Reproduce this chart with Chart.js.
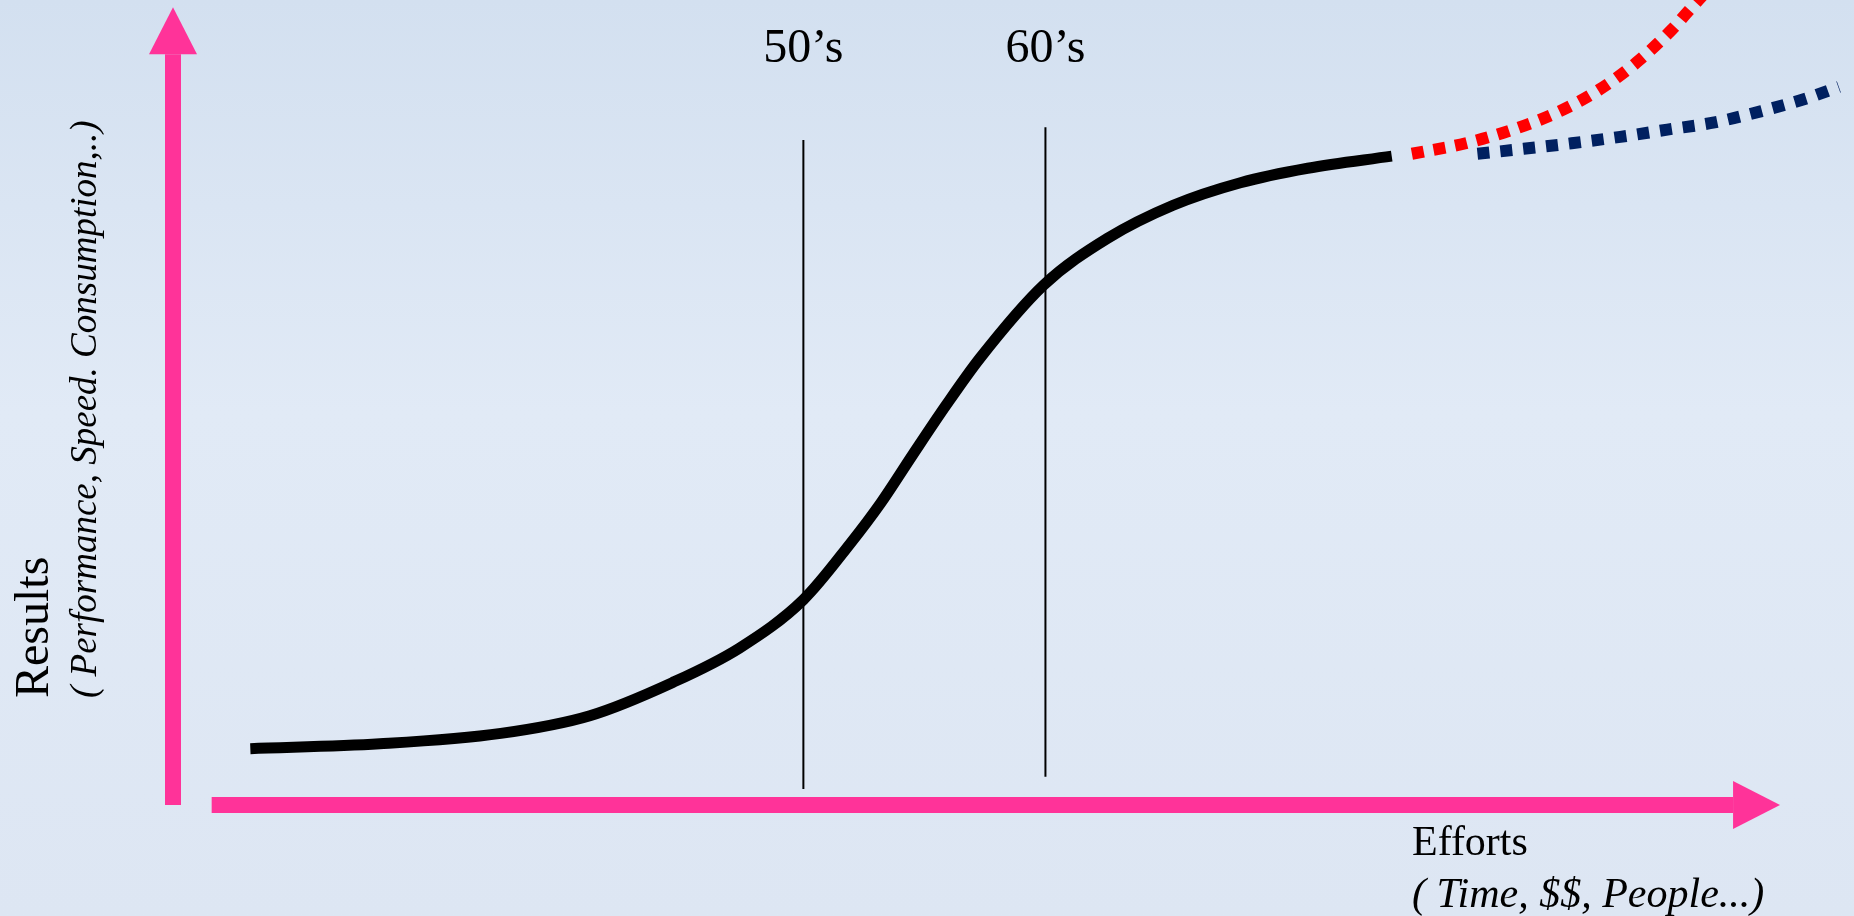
<!DOCTYPE html>
<html>
<head>
<meta charset="utf-8">
<title>S-curve of efforts vs results</title>
<script src="https://cdn.jsdelivr.net/npm/chart.js@4"></script>
<style>
  html, body { margin: 0; padding: 0; }
  body {
    width: 1854px;
    height: 916px;
    overflow: hidden;
    background: linear-gradient(to bottom, #d3e0f0 0%, #e1eaf6 45%, #dde6f3 100%);
  }
  #chart { display: block; }
</style>
</head>
<body>
<canvas id="chart" width="1854" height="916"></canvas>
<script>
// ------------------------- Data -------------------------
// main S-curve (efforts on x, results on y, both 0..100)
const curveEffort = [4.6, 12.3, 19.5, 24.8, 29.7, 33.7, 37.5, 40.3, 42.1, 44.0, 46.0, 48.0, 51.8, 55.6, 59.5, 63.5, 67.5, 72.5];
const curveResult = [7.0, 7.6, 8.9, 11.1, 15.2, 19.5, 25.5, 32.5, 37.5, 43.5, 49.7, 55.5, 64.6, 70.4, 74.5, 77.3, 79.1, 80.6];

// red dotted: new technology jump
const redEffort = [73.7, 76.9, 79.7, 82.3, 84.8, 87.1, 89.2, 90.1, 91.1];
const redResult = [80.9, 82.2, 83.9, 86.0, 88.8, 92.3, 96.4, 98.5, 100.8];

// navy dotted: slow continuation
const navyEffort = [77.6, 80.3, 83.2, 86.1, 88.9, 91.7, 94.5, 97.2, 99.1];
const navyResult = [80.9, 81.5, 82.2, 83.0, 83.9, 84.8, 86.2, 87.8, 89.2];

// era markers
const eraLabels = ['50\u2019s', '60\u2019s'];
const eraEffort = [37.5, 51.9];
const eraBottom = [2.0, 3.5];
const eraTop = [82.6, 84.2];

// ------------------------- Helpers -------------------------
function toPoints(xs, ys) {
  return xs.map((x, i) => ({ x: x, y: ys[i] }));
}

const PINK = '#ff3399';
const SERIF = '"Times New Roman", "Liberation Serif", serif';

const eraSets = eraEffort.map((x, i) => ({
  data: [{ x: x, y: eraBottom[i] }, { x: x, y: eraTop[i] }],
  borderColor: '#000000',
  borderWidth: 2,
  pointRadius: 0,
  tension: 0
}));

// arrows + texts around the plot
const decorPlugin = {
  id: 'decor',
  afterDraw(chart) {
    const c = chart.ctx;
    const xs = chart.scales.x;
    const ys = chart.scales.y;
    const ox = xs.getPixelForValue(0);
    const oy = ys.getPixelForValue(0);

    c.save();
    c.fillStyle = PINK;

    // vertical arrow
    const vTip = ys.getPixelForValue(99.1);
    c.fillRect(ox - 8, vTip + 47, 16, oy - vTip - 47);
    c.beginPath();
    c.moveTo(ox, vTip);
    c.lineTo(ox + 24, vTip + 47);
    c.lineTo(ox - 24, vTip + 47);
    c.closePath();
    c.fill();

    // horizontal arrow
    const hStart = xs.getPixelForValue(2.3);
    const hTip = xs.getPixelForValue(95.6);
    c.fillRect(hStart, oy - 8, hTip - 47 - hStart, 16);
    c.beginPath();
    c.moveTo(hTip, oy);
    c.lineTo(hTip - 47, oy - 24);
    c.lineTo(hTip - 47, oy + 24);
    c.closePath();
    c.fill();

    // era labels
    c.fillStyle = '#000000';
    c.textAlign = 'center';
    c.textBaseline = 'alphabetic';
    c.font = '48px ' + SERIF;
    eraLabels.forEach((t, i) => {
      c.fillText(t, xs.getPixelForValue(eraEffort[i]), 62);
    });

    // x axis title
    c.textAlign = 'left';
    c.font = '42px ' + SERIF;
    c.fillText('Efforts', 1412, 855);
    c.font = 'italic 42px ' + SERIF;
    c.fillText('( Time, $$, People...)', 1412, 907);

    // y axis title (rotated)
    c.save();
    c.translate(48, 698);
    c.rotate(-Math.PI / 2);
    c.font = '48px ' + SERIF;
    c.fillText('Results', 0, 0);
    c.restore();

    c.save();
    c.translate(96, 698);
    c.rotate(-Math.PI / 2);
    c.font = 'italic 37px ' + SERIF;
    c.fillText('( Performance, Speed. Consumption,..)', 0, 0);
    c.restore();

    c.restore();
  }
};

// ------------------------- Chart -------------------------
const ctx = document.getElementById('chart').getContext('2d');
new Chart(ctx, {
  type: 'line',
  data: {
    datasets: [
      {
        data: toPoints(curveEffort, curveResult),
        borderColor: '#000000',
        borderWidth: 11,
        borderCapStyle: 'butt',
        cubicInterpolationMode: 'monotone',
        pointRadius: 0
      },
      {
        data: toPoints(redEffort, redResult),
        borderColor: '#ff0000',
        borderWidth: 12,
        borderDash: [12, 10],
        borderCapStyle: 'butt',
        cubicInterpolationMode: 'monotone',
        pointRadius: 0
      },
      {
        data: toPoints(navyEffort, navyResult),
        borderColor: '#002060',
        borderWidth: 12,
        borderDash: [12, 11],
        borderCapStyle: 'butt',
        cubicInterpolationMode: 'monotone',
        pointRadius: 0
      },
      ...eraSets
    ]
  },
  options: {
    responsive: false,
    animation: false,
    devicePixelRatio: 1,
    layout: { padding: { left: 173, right: 0, top: 0, bottom: 111 } },
    plugins: { legend: { display: false }, tooltip: { enabled: false } },
    scales: {
      x: { type: 'linear', min: 0, max: 100, display: false },
      y: { type: 'linear', min: 0, max: 100, display: false }
    }
  },
  plugins: [decorPlugin]
});
</script>
</body>
</html>
